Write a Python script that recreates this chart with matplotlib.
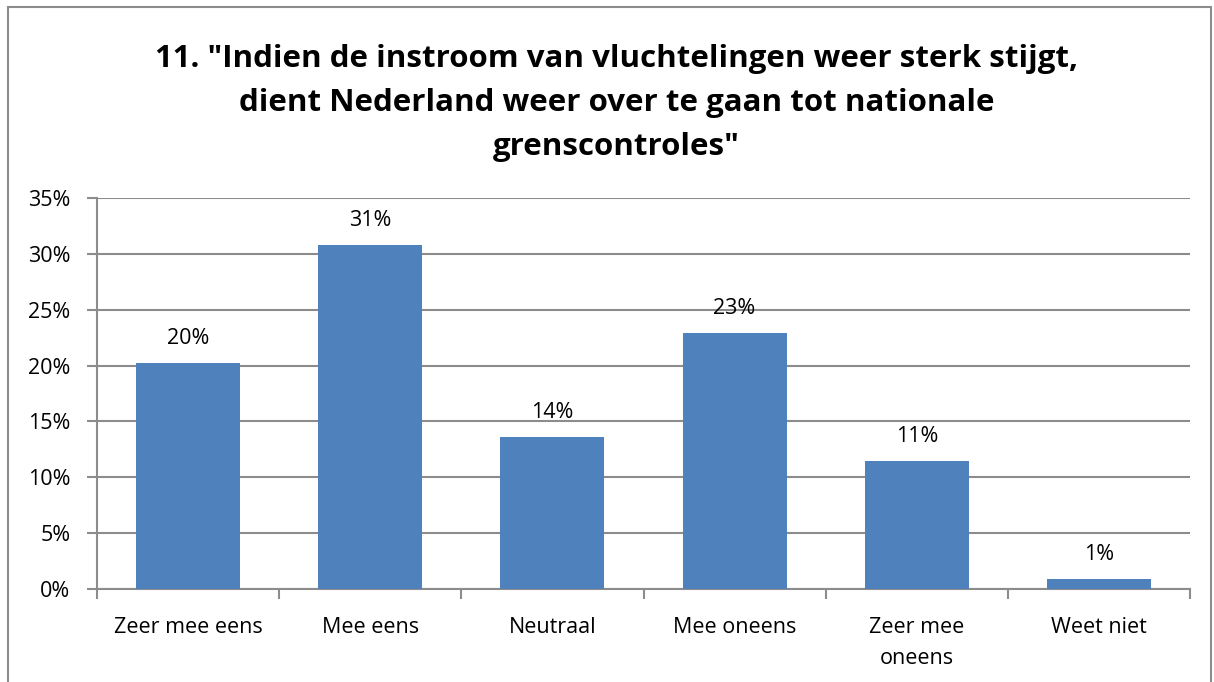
import matplotlib
matplotlib.use("Agg")
import matplotlib.pyplot as plt
from matplotlib.patches import Rectangle
from matplotlib.ticker import FuncFormatter, MultipleLocator
import numpy as np

categories = ["Zeer mee eens", "Mee eens", "Neutraal", "Mee oneens",
              "Zeer mee\noneens", "Weet niet"]
values = [20.2, 30.8, 13.6, 22.9, 11.5, 0.9]
labels = ["20%", "31%", "14%", "23%", "11%", "1%"]
title = ('11. "Indien de instroom van vluchtelingen weer sterk stijgt,\n'
         'dient Nederland weer over te gaan tot nationale\n'
         'grenscontroles"')

BAR_COLOR = "#4F81BD"
GRID_COLOR = "#8C8C8C"
FONT = "Open Sans"

W, H = 1214, 682
fig = plt.figure(figsize=(W / 100, H / 100), dpi=100)

# outer chart frame
fig.patches.append(Rectangle((8 / W, -0.01), (1211 - 8) / W, 1 - 7 / H + 0.01,
                             transform=fig.transFigure, fill=False,
                             edgecolor="#8C8C8C", linewidth=1.5))

ax = fig.add_axes([97 / W, (H - 589) / H, (1190 - 97) / W, (589 - 198) / H])

x = np.arange(len(categories))
ax.bar(x, values, width=0.57, color=BAR_COLOR, zorder=3)
for xi, v, lab in zip(x, values, labels):
    ax.text(xi, v + 1.25, lab, ha="center", va="bottom", fontsize=15.5,
            family=FONT, color="black")

ax.set_xlim(-0.5, len(categories) - 0.5)
ax.set_ylim(0, 35)
ax.yaxis.set_major_locator(MultipleLocator(5))
ax.yaxis.set_major_formatter(FuncFormatter(lambda v, _: f"{v:.0f}%"))
ax.grid(axis="y", color=GRID_COLOR, linewidth=1.5, zorder=0)

ax.set_xticks(x)
ax.set_xticklabels(categories, fontsize=15.5, family=FONT, linespacing=1.65)
ax.set_xticks(np.arange(len(categories) + 1) - 0.5, minor=True)
ax.tick_params(axis="x", which="major", length=0, pad=20)
ax.tick_params(axis="x", which="minor", length=7, width=1.5, color=GRID_COLOR)
ax.tick_params(axis="y", length=7, width=1.5, color=GRID_COLOR, pad=12,
               labelsize=15.5)
for t in ax.get_yticklabels():
    t.set_family(FONT)

for side in ["top", "right"]:
    ax.spines[side].set_visible(False)
for side in ["left", "bottom"]:
    ax.spines[side].set_color(GRID_COLOR)
    ax.spines[side].set_linewidth(1.5)

fig.text(0.508, 0.935, title, ha="center", va="top", fontsize=22.5,
         fontweight="bold", family=FONT, linespacing=1.6)

fig.savefig("out.png", dpi=100)
